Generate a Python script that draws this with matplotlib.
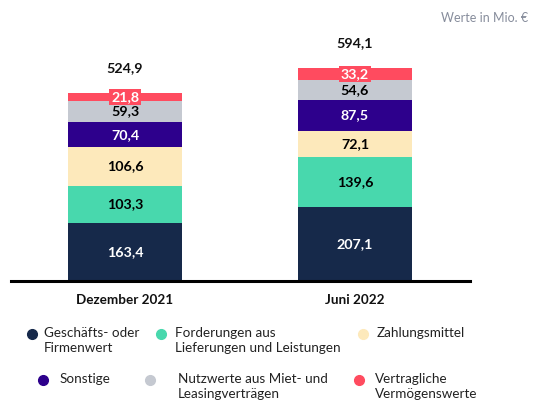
import matplotlib.pyplot as plt

plt.rcParams['font.family'] = ['Lato', 'DejaVu Sans']

periods = ["Dezember 2021", "Juni 2022"]
segments = ["Geschäfts- oder\nFirmenwert", "Forderungen aus\nLieferungen und Leistungen", "Zahlungsmittel",
            "Sonstige", "Nutzwerte aus Miet- und\nLeasingverträgen", "Vertragliche\nVermögenswerte"]
values = [
    [163.4, 207.1],
    [103.3, 139.6],
    [106.6, 72.1],
    [70.4, 87.5],
    [59.3, 54.6],
    [21.8, 33.2],
]
totals = [524.9, 594.1]

colors = ["#16294a", "#48d8ad", "#fde9bb", "#2d008c", "#c5c9d1", "#ff4b5f"]
label_colors = ["white", "black", "black", "white", "black", "white"]


def fmt(v):
    return f"{v:.1f}".replace(".", ",")


fig = plt.figure(figsize=(5.4, 4.01), dpi=100)
W, H = 540, 401
# axes in pixel coordinates: left 11, right 470, baseline 281, top 20
ax = fig.add_axes([11 / W, (H - 281) / H, (470 - 11) / W, (281 - 20) / H])
ax.set_xlim(-0.496, 1.5)
ax.set_ylim(0, 261 / 0.358)

x = [0, 1]
bottom = [0, 0]
for vals, col, lc in zip(values, colors, label_colors):
    ax.bar(x, vals, bottom=bottom, width=0.496, color=col, linewidth=0)
    for xi, v, b in zip(x, vals, bottom):
        kw = {}
        if col == "#ff4b5f":
            kw["bbox"] = dict(boxstyle="square,pad=0.15", fc=col, ec="none")
        ax.text(xi, b + v / 2, fmt(v), ha="center", va="center", color=lc,
                fontsize=10.3, fontweight="bold", **kw)
    bottom = [b + v for b, v in zip(bottom, vals)]

for xi, t in zip(x, totals):
    ax.text(xi, t + 70, fmt(t), ha="center", va="center", fontsize=10.3, fontweight="bold", color="#111111")

for s in ["top", "right", "left"]:
    ax.spines[s].set_visible(False)
ax.spines["bottom"].set_linewidth(2.2)
ax.spines["bottom"].set_color("black")
ax.set_yticks([])
ax.set_xticks(x)
ax.set_xticklabels(periods, fontsize=9.7, fontweight="bold", color="#111111")
ax.tick_params(axis="x", length=0, pad=9)

fig.text(528 / W, 1 - 18 / H, "Werte in Mio. €", ha="right", va="center", fontsize=9, color="#878d9c")

# legend
leg_pos = [(32, 44, 334), (161, 175, 334), (363, 377, 334),
           (43, 60, 380), (150, 178, 380), (359, 375, 380)]
for (mx, tx, ty), lab, col in zip(leg_pos, segments, colors):
    fig.lines.append(plt.Line2D([mx / W], [1 - ty / H], marker="o", markersize=7, color=col,
                                linestyle="none", transform=fig.transFigure))
    fig.text(tx / W, 1 - (ty - 7) / H, lab, ha="left", va="top", fontsize=9.7,
             color="#222222", linespacing=1.3)

fig.savefig("out.png", dpi=100)
